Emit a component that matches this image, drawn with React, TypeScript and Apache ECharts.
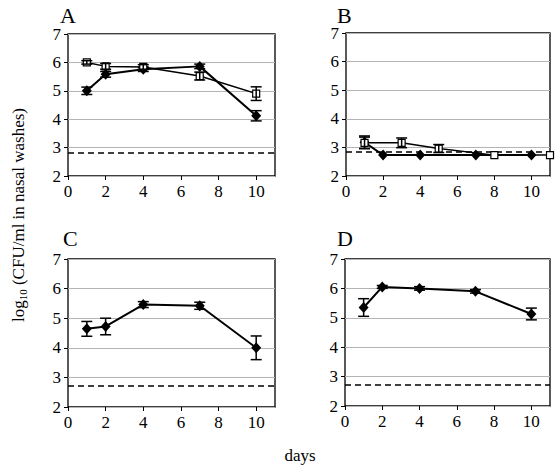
import React, { useEffect, useRef } from "react";
import * as echarts from "echarts";

// ---------- data ----------
const daysMain = [1, 2, 4, 7, 10];

const aFilledMean = [5.0, 5.58, 5.76, 5.86, 4.12];
const aFilledErr = [0.13, 0.1, 0.08, 0.08, 0.18];
const aOpenMean = [6.0, 5.86, 5.84, 5.52, 4.9];
const aOpenErr = [0.06, 0.1, 0.08, 0.14, 0.24];

const bFilledMean = [3.18, 2.73, 2.73, 2.73, 2.73];
const bFilledErr = [0.22, 0, 0, 0, 0];
const bOpenDays = [1, 3, 5, 8, 11];
const bOpenMean = [3.16, 3.16, 2.96, 2.73, 2.73];
const bOpenErr = [0.2, 0.17, 0.14, 0, 0];

const cFilledMean = [4.64, 4.72, 5.46, 5.42, 4.0];
const cFilledErr = [0.25, 0.28, 0.1, 0.12, 0.4];

const dFilledMean = [5.35, 6.05, 6.0, 5.9, 5.13];
const dFilledErr = [0.3, 0.05, 0.06, 0.06, 0.2];

const detectionLimits = [2.82, 2.84, 2.71, 2.71];
const panelLabels = ["A", "B", "C", "D"];
const yAxisTitleMain = "log";
const yAxisTitleSub = "10";
const yAxisTitleRest = " (CFU/ml in nasal washes)";
const xAxisTitle = "days";

// ---------- layout ----------
const FONT = "Liberation Serif, serif";
const grids = [
  { left: 68, top: 34, width: 207, height: 142 },
  { left: 346, top: 33, width: 204, height: 143 },
  { left: 68, top: 259, width: 207, height: 148 },
  { left: 345, top: 259, width: 205, height: 147 },
];
const letterPos = [
  [60, 4],
  [337, 4],
  [63, 227],
  [337, 227],
];

const panelFilled = [
  { days: daysMain, mean: aFilledMean, err: aFilledErr },
  { days: daysMain, mean: bFilledMean, err: bFilledErr },
  { days: daysMain, mean: cFilledMean, err: cFilledErr },
  { days: daysMain, mean: dFilledMean, err: dFilledErr },
];
const panelOpen: ({ days: number[]; mean: number[]; err: number[] } | null)[] = [
  { days: daysMain, mean: aOpenMean, err: aOpenErr },
  { days: bOpenDays, mean: bOpenMean, err: bOpenErr },
  null,
  null,
];

function errorBarSeries(idx: number, s: { days: number[]; mean: number[]; err: number[] }, z: number) {
  const data = s.days
    .map((d, i) => [d, s.mean[i], s.err[i]])
    .filter((p) => p[2] > 0);
  return {
    type: "custom",
    xAxisIndex: idx,
    yAxisIndex: idx,
    z,
    silent: true,
    encode: { x: 0, y: 1 },
    data,
    renderItem: (_params: any, api: any) => {
      const x = api.value(0);
      const y = api.value(1);
      const e = api.value(2);
      const p1 = api.coord([x, y + e]);
      const p2 = api.coord([x, y - e]);
      const w = 5.5;
      const st = { stroke: "#000", lineWidth: 1.5, fill: "none" };
      return {
        type: "group",
        children: [
          { type: "line", shape: { x1: p1[0], y1: p1[1], x2: p2[0], y2: p2[1] }, style: st },
          { type: "line", shape: { x1: p1[0] - w, y1: p1[1], x2: p1[0] + w, y2: p1[1] }, style: st },
          { type: "line", shape: { x1: p2[0] - w, y1: p2[1], x2: p2[0] + w, y2: p2[1] }, style: st },
        ],
      };
    },
  };
}

export default function App() {
  const ref = useRef<HTMLDivElement>(null);

  useEffect(() => {
    if (!ref.current) return;
    const chart = echarts.init(ref.current, null, { renderer: "svg" });

    const xAxis = grids.map((_, i) => ({
      type: "value",
      gridIndex: i,
      min: 0,
      max: 11,
      interval: 2,
      axisLine: { show: false },
      axisTick: { show: true, length: 4, lineStyle: { color: "#000" } },
      splitLine: { show: false },
      axisLabel: {
        color: "#000",
        fontSize: 17,
        fontFamily: FONT,
        margin: 7,
        showMaxLabel: false,
        formatter: (v: number) => (v % 2 === 0 ? String(v) : ""),
      },
    }));

    const yAxis = grids.map((_, i) => ({
      type: "value",
      gridIndex: i,
      min: 2,
      max: 7,
      interval: 1,
      axisLine: { show: false },
      axisTick: { show: true, length: 4, lineStyle: { color: "#000" } },
      splitLine: { show: true, lineStyle: { color: "#b4b4b4", width: 1 } },
      axisLabel: { color: "#000", fontSize: 17, fontFamily: FONT, margin: 7 },
    }));

    const series: any[] = [];
    grids.forEach((_, i) => {
      const f = panelFilled[i];
      series.push({
        type: "line",
        xAxisIndex: i,
        yAxisIndex: i,
        z: 3,
        data: f.days.map((d, k) => [d, f.mean[k]]),
        symbol: "diamond",
        symbolSize: [10, 11],
        itemStyle: { color: "#000" },
        lineStyle: { color: "#000", width: 2 },
        markLine: {
          silent: true,
          symbol: "none",
          label: { show: false },
          lineStyle: { color: "#000", type: [6, 4], width: 1.5 },
          data: [{ yAxis: detectionLimits[i] }],
        },
      });
      series.push(errorBarSeries(i, f, 4));
      const o = panelOpen[i];
      if (o) {
        series.push({
          type: "line",
          xAxisIndex: i,
          yAxisIndex: i,
          z: 5,
          data: o.days.map((d, k) => [d, o.mean[k]]),
          symbol: "rect",
          symbolSize: 7,
          showAllSymbol: true,
          clip: false,
          itemStyle: { color: "#fff", borderColor: "#000", borderWidth: 1.2 },
          lineStyle: { color: "#000", width: 1.5 },
        });
        series.push(errorBarSeries(i, o, 6));
      }
    });

    const graphic: any[] = [];
    panelLabels.forEach((t, i) => {
      graphic.push({
        type: "text",
        left: letterPos[i][0],
        top: letterPos[i][1],
        style: { text: t, fontSize: 22, fontFamily: FONT, fill: "#000" },
      });
    });
    graphic.push({
      type: "text",
      x: 18,
      y: 215,
      rotation: Math.PI / 2,
      style: {
        text: `{a|${yAxisTitleMain}}{b|${yAxisTitleSub}}{a|${yAxisTitleRest}}`,
        align: "center",
        verticalAlign: "middle",
        fill: "#000",
        rich: {
          a: { fontSize: 17, fontFamily: FONT, color: "#000", lineHeight: 20, verticalAlign: "middle" },
          b: { fontSize: 11, fontFamily: FONT, color: "#000", lineHeight: 20, verticalAlign: "bottom" },
        },
      },
    });
    graphic.push({
      type: "text",
      x: 300,
      y: 455,
      style: {
        text: xAxisTitle,
        fontSize: 17,
        fontFamily: FONT,
        fill: "#000",
        align: "center",
        verticalAlign: "middle",
      },
    });

    chart.setOption({
      animation: false,
      backgroundColor: "#fff",
      textStyle: { fontFamily: FONT },
      grid: grids.map((g) => ({
        ...g,
        show: true,
        borderColor: "#000",
        borderWidth: 1.3,
        backgroundColor: "transparent",
      })),
      xAxis,
      yAxis,
      series,
      graphic,
    });

    return () => chart.dispose();
  }, []);

  return (
    <div
      ref={ref}
      style={{ position: "fixed", left: 0, top: 0, width: 557, height: 476, background: "#fff" }}
    />
  );
}
